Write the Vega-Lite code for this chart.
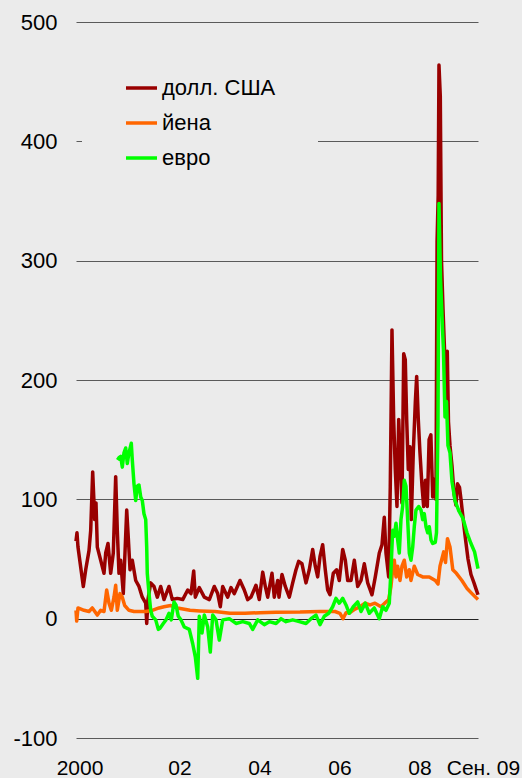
{
  "$schema": "https://vega.github.io/schema/vega-lite/v6.json",
  "width": 402,
  "height": 716,
  "autosize": {"type": "none"},
  "padding": {"left": 76, "top": 22, "right": 44, "bottom": 40},
  "background": "#ebebeb",
  "config": {
    "view": {"stroke": null},
    "font": "Liberation Sans"
  },
  "layer": [
    {
      "data": {"values": [
        {"series":"долл. США","year":2000.000,"value":65},
        {"series":"долл. США","year":2000.024,"value":72},
        {"series":"долл. США","year":2000.048,"value":60},
        {"series":"долл. США","year":2000.114,"value":43},
        {"series":"долл. США","year":2000.177,"value":27},
        {"series":"долл. США","year":2000.235,"value":41},
        {"series":"долл. США","year":2000.315,"value":57},
        {"series":"долл. США","year":2000.356,"value":74},
        {"series":"долл. США","year":2000.404,"value":123},
        {"series":"долл. США","year":2000.453,"value":83},
        {"series":"долл. США","year":2000.484,"value":97},
        {"series":"долл. США","year":2000.516,"value":60},
        {"series":"долл. США","year":2000.598,"value":49},
        {"series":"долл. США","year":2000.678,"value":38},
        {"series":"долл. США","year":2000.719,"value":55},
        {"series":"долл. США","year":2000.775,"value":63},
        {"series":"долл. США","year":2000.840,"value":38},
        {"series":"долл. США","year":2000.903,"value":55},
        {"series":"долл. США","year":2000.961,"value":119},
        {"series":"долл. США","year":2001.000,"value":74},
        {"series":"долл. США","year":2001.041,"value":38},
        {"series":"долл. США","year":2001.082,"value":49},
        {"series":"долл. США","year":2001.145,"value":21},
        {"series":"долл. США","year":2001.186,"value":55},
        {"series":"долл. США","year":2001.228,"value":91},
        {"series":"долл. США","year":2001.266,"value":68},
        {"series":"долл. США","year":2001.308,"value":41},
        {"series":"долл. США","year":2001.363,"value":49},
        {"series":"долл. США","year":2001.446,"value":32},
        {"series":"долл. США","year":2001.525,"value":27},
        {"series":"долл. США","year":2001.605,"value":18},
        {"series":"долл. США","year":2001.688,"value":13},
        {"series":"долл. США","year":2001.712,"value":-4},
        {"series":"долл. США","year":2001.743,"value":16},
        {"series":"долл. США","year":2001.809,"value":30},
        {"series":"долл. США","year":2001.889,"value":27},
        {"series":"долл. США","year":2001.969,"value":18},
        {"series":"долл. США","year":2002.051,"value":27},
        {"series":"долл. США","year":2002.131,"value":16},
        {"series":"долл. США","year":2002.252,"value":27},
        {"series":"долл. США","year":2002.332,"value":16},
        {"series":"долл. США","year":2002.453,"value":17},
        {"series":"долл. США","year":2002.584,"value":16},
        {"series":"долл. США","year":2002.705,"value":24},
        {"series":"долл. США","year":2002.785,"value":21},
        {"series":"долл. США","year":2002.850,"value":40},
        {"series":"долл. США","year":2002.889,"value":18},
        {"series":"долл. США","year":2002.985,"value":26},
        {"series":"долл. США","year":2003.107,"value":18},
        {"series":"долл. США","year":2003.228,"value":16},
        {"series":"долл. США","year":2003.349,"value":27},
        {"series":"долл. США","year":2003.431,"value":21},
        {"series":"долл. США","year":2003.494,"value":10},
        {"series":"долл. США","year":2003.552,"value":27},
        {"series":"долл. США","year":2003.673,"value":18},
        {"series":"долл. США","year":2003.753,"value":26},
        {"series":"долл. США","year":2003.833,"value":21},
        {"series":"долл. США","year":2003.971,"value":32},
        {"series":"долл. США","year":2004.075,"value":24},
        {"series":"долл. США","year":2004.157,"value":16},
        {"series":"долл. США","year":2004.237,"value":18},
        {"series":"долл. США","year":2004.358,"value":28},
        {"series":"долл. США","year":2004.438,"value":16},
        {"series":"долл. США","year":2004.521,"value":39},
        {"series":"долл. США","year":2004.584,"value":27},
        {"series":"долл. США","year":2004.642,"value":18},
        {"series":"долл. США","year":2004.746,"value":38},
        {"series":"долл. США","year":2004.801,"value":18},
        {"series":"долл. США","year":2004.884,"value":32},
        {"series":"долл. США","year":2004.915,"value":18},
        {"series":"долл. США","year":2004.988,"value":37},
        {"series":"долл. США","year":2005.068,"value":27},
        {"series":"долл. США","year":2005.165,"value":18},
        {"series":"долл. США","year":2005.247,"value":30},
        {"series":"долл. США","year":2005.327,"value":41},
        {"series":"долл. США","year":2005.392,"value":48},
        {"series":"долл. США","year":2005.472,"value":46},
        {"series":"долл. США","year":2005.569,"value":30},
        {"series":"долл. США","year":2005.649,"value":41},
        {"series":"долл. США","year":2005.731,"value":58},
        {"series":"долл. США","year":2005.794,"value":44},
        {"series":"долл. США","year":2005.852,"value":35},
        {"series":"долл. США","year":2005.908,"value":52},
        {"series":"долл. США","year":2005.973,"value":62},
        {"series":"долл. США","year":2006.036,"value":41},
        {"series":"долл. США","year":2006.094,"value":24},
        {"series":"долл. США","year":2006.150,"value":20},
        {"series":"долл. США","year":2006.230,"value":38},
        {"series":"долл. США","year":2006.312,"value":41},
        {"series":"долл. США","year":2006.375,"value":32},
        {"series":"долл. США","year":2006.458,"value":58},
        {"series":"долл. США","year":2006.521,"value":49},
        {"series":"долл. США","year":2006.579,"value":32},
        {"series":"долл. США","year":2006.659,"value":32},
        {"series":"долл. США","year":2006.739,"value":49},
        {"series":"долл. США","year":2006.821,"value":27},
        {"series":"долл. США","year":2006.901,"value":32},
        {"series":"долл. США","year":2006.981,"value":46},
        {"series":"долл. США","year":2007.063,"value":30},
        {"series":"долл. США","year":2007.167,"value":20},
        {"series":"долл. США","year":2007.247,"value":35},
        {"series":"долл. США","year":2007.344,"value":55},
        {"series":"долл. США","year":2007.409,"value":62},
        {"series":"долл. США","year":2007.465,"value":85},
        {"series":"долл. США","year":2007.506,"value":55},
        {"series":"долл. США","year":2007.571,"value":35},
        {"series":"долл. США","year":2007.610,"value":111},
        {"series":"долл. США","year":2007.651,"value":242},
        {"series":"долл. США","year":2007.692,"value":167},
        {"series":"долл. США","year":2007.731,"value":125},
        {"series":"долл. США","year":2007.772,"value":94},
        {"series":"долл. США","year":2007.814,"value":167},
        {"series":"долл. США","year":2007.845,"value":139},
        {"series":"долл. США","year":2007.893,"value":97},
        {"series":"долл. США","year":2007.935,"value":222},
        {"series":"долл. США","year":2007.973,"value":217},
        {"series":"долл. США","year":2008.007,"value":167},
        {"series":"долл. США","year":2008.046,"value":125},
        {"series":"долл. США","year":2008.087,"value":144},
        {"series":"долл. США","year":2008.119,"value":83},
        {"series":"долл. США","year":2008.167,"value":139},
        {"series":"долл. США","year":2008.216,"value":181},
        {"series":"долл. США","year":2008.249,"value":203},
        {"series":"долл. США","year":2008.288,"value":167},
        {"series":"долл. США","year":2008.329,"value":139},
        {"series":"долл. США","year":2008.378,"value":111},
        {"series":"долл. США","year":2008.419,"value":94},
        {"series":"долл. США","year":2008.462,"value":116},
        {"series":"долл. США","year":2008.506,"value":94},
        {"series":"долл. США","year":2008.550,"value":150},
        {"series":"долл. США","year":2008.593,"value":154},
        {"series":"долл. США","year":2008.637,"value":102},
        {"series":"долл. США","year":2008.683,"value":117},
        {"series":"долл. США","year":2008.717,"value":100},
        {"series":"долл. США","year":2008.743,"value":316},
        {"series":"долл. США","year":2008.770,"value":355},
        {"series":"долл. США","year":2008.789,"value":464},
        {"series":"долл. США","year":2008.821,"value":438},
        {"series":"долл. США","year":2008.850,"value":300},
        {"series":"долл. США","year":2008.886,"value":260},
        {"series":"долл. США","year":2008.923,"value":226},
        {"series":"долл. США","year":2008.959,"value":175},
        {"series":"долл. США","year":2008.990,"value":224},
        {"series":"долл. США","year":2009.019,"value":165},
        {"series":"долл. США","year":2009.056,"value":145},
        {"series":"долл. США","year":2009.104,"value":128},
        {"series":"долл. США","year":2009.153,"value":105},
        {"series":"долл. США","year":2009.201,"value":95},
        {"series":"долл. США","year":2009.237,"value":113},
        {"series":"долл. США","year":2009.286,"value":110},
        {"series":"долл. США","year":2009.322,"value":100},
        {"series":"долл. США","year":2009.370,"value":85},
        {"series":"долл. США","year":2009.419,"value":70},
        {"series":"долл. США","year":2009.492,"value":50},
        {"series":"долл. США","year":2009.564,"value":37},
        {"series":"долл. США","year":2009.637,"value":30},
        {"series":"долл. США","year":2009.685,"value":25},
        {"series":"долл. США","year":2009.734,"value":20},

        {"series":"йена","year":2000.000,"value":7},
        {"series":"йена","year":2000.017,"value":-2},
        {"series":"йена","year":2000.048,"value":9},
        {"series":"йена","year":2000.194,"value":7},
        {"series":"йена","year":2000.315,"value":6},
        {"series":"йена","year":2000.395,"value":9},
        {"series":"йена","year":2000.516,"value":3},
        {"series":"йена","year":2000.598,"value":7},
        {"series":"йена","year":2000.678,"value":6},
        {"series":"йена","year":2000.743,"value":24},
        {"series":"йена","year":2000.799,"value":13},
        {"series":"йена","year":2000.855,"value":7},
        {"series":"йена","year":2000.920,"value":18},
        {"series":"йена","year":2000.961,"value":28},
        {"series":"йена","year":2001.000,"value":7},
        {"series":"йена","year":2001.065,"value":21},
        {"series":"йена","year":2001.121,"value":18},
        {"series":"йена","year":2001.179,"value":11},
        {"series":"йена","year":2001.283,"value":7},
        {"series":"йена","year":2001.404,"value":6},
        {"series":"йена","year":2001.567,"value":6},
        {"series":"йена","year":2001.688,"value":6},
        {"series":"йена","year":2001.847,"value":7},
        {"series":"йена","year":2002.010,"value":9},
        {"series":"йена","year":2002.131,"value":10},
        {"series":"йена","year":2002.293,"value":11},
        {"series":"йена","year":2002.453,"value":9},
        {"series":"йена","year":2002.760,"value":7},
        {"series":"йена","year":2003.002,"value":6.5},
        {"series":"йена","year":2003.366,"value":6},
        {"series":"йена","year":2003.729,"value":4.5},
        {"series":"йена","year":2004.092,"value":4.5},
        {"series":"йена","year":2004.455,"value":5},
        {"series":"йена","year":2004.843,"value":5.4},
        {"series":"йена","year":2005.424,"value":5.5},
        {"series":"йена","year":2005.908,"value":6},
        {"series":"йена","year":2006.271,"value":6},
        {"series":"йена","year":2006.392,"value":4.5},
        {"series":"йена","year":2006.465,"value":0},
        {"series":"йена","year":2006.538,"value":5},
        {"series":"йена","year":2006.634,"value":5},
        {"series":"йена","year":2006.755,"value":8},
        {"series":"йена","year":2006.877,"value":10},
        {"series":"йена","year":2006.998,"value":13},
        {"series":"йена","year":2007.119,"value":11.5},
        {"series":"йена","year":2007.240,"value":13},
        {"series":"йена","year":2007.385,"value":10},
        {"series":"йена","year":2007.506,"value":14},
        {"series":"йена","year":2007.571,"value":16},
        {"series":"йена","year":2007.627,"value":27},
        {"series":"йена","year":2007.668,"value":41},
        {"series":"йена","year":2007.707,"value":49},
        {"series":"йена","year":2007.748,"value":35},
        {"series":"йена","year":2007.789,"value":44},
        {"series":"йена","year":2007.845,"value":32},
        {"series":"йена","year":2007.893,"value":44},
        {"series":"йена","year":2007.949,"value":49},
        {"series":"йена","year":2008.007,"value":35},
        {"series":"йена","year":2008.070,"value":41},
        {"series":"йена","year":2008.111,"value":32},
        {"series":"йена","year":2008.191,"value":44},
        {"series":"йена","year":2008.274,"value":37},
        {"series":"йена","year":2008.395,"value":35},
        {"series":"йена","year":2008.554,"value":35},
        {"series":"йена","year":2008.700,"value":32},
        {"series":"йена","year":2008.765,"value":29},
        {"series":"йена","year":2008.814,"value":44},
        {"series":"йена","year":2008.903,"value":56},
        {"series":"йена","year":2008.947,"value":47},
        {"series":"йена","year":2008.995,"value":67},
        {"series":"йена","year":2009.056,"value":60},
        {"series":"йена","year":2009.124,"value":41},
        {"series":"йена","year":2009.211,"value":38},
        {"series":"йена","year":2009.344,"value":32},
        {"series":"йена","year":2009.475,"value":25},
        {"series":"йена","year":2009.588,"value":21},
        {"series":"йена","year":2009.734,"value":16},

        {"series":"евро","year":2001.005,"value":133},
        {"series":"евро","year":2001.041,"value":135},
        {"series":"евро","year":2001.082,"value":136},
        {"series":"евро","year":2001.121,"value":127},
        {"series":"евро","year":2001.162,"value":139},
        {"series":"евро","year":2001.203,"value":143},
        {"series":"евро","year":2001.242,"value":130},
        {"series":"евро","year":2001.283,"value":139},
        {"series":"евро","year":2001.339,"value":147},
        {"series":"евро","year":2001.363,"value":133},
        {"series":"евро","year":2001.404,"value":113},
        {"series":"евро","year":2001.446,"value":99},
        {"series":"евро","year":2001.484,"value":111},
        {"series":"евро","year":2001.525,"value":112},
        {"series":"евро","year":2001.567,"value":102},
        {"series":"евро","year":2001.605,"value":99},
        {"series":"евро","year":2001.646,"value":88},
        {"series":"евро","year":2001.688,"value":83},
        {"series":"евро","year":2001.712,"value":60},
        {"series":"евро","year":2001.726,"value":38},
        {"series":"евро","year":2001.768,"value":21},
        {"series":"евро","year":2001.809,"value":7},
        {"series":"евро","year":2001.847,"value":2},
        {"series":"евро","year":2001.930,"value":-1},
        {"series":"евро","year":2001.993,"value":-9},
        {"series":"евро","year":2002.034,"value":-8},
        {"series":"евро","year":2002.114,"value":-4},
        {"series":"евро","year":2002.179,"value":-1},
        {"series":"евро","year":2002.252,"value":4.5},
        {"series":"евро","year":2002.308,"value":-1},
        {"series":"евро","year":2002.373,"value":14},
        {"series":"евро","year":2002.421,"value":11.5},
        {"series":"евро","year":2002.477,"value":2},
        {"series":"евро","year":2002.542,"value":-1},
        {"series":"евро","year":2002.622,"value":-7},
        {"series":"евро","year":2002.743,"value":-9},
        {"series":"евро","year":2002.826,"value":-21},
        {"series":"евро","year":2002.889,"value":-32},
        {"series":"евро","year":2002.947,"value":-50},
        {"series":"евро","year":2002.985,"value":2},
        {"series":"евро","year":2003.051,"value":-12},
        {"series":"евро","year":2003.107,"value":3},
        {"series":"евро","year":2003.189,"value":-7},
        {"series":"евро","year":2003.252,"value":-28},
        {"series":"евро","year":2003.310,"value":3},
        {"series":"евро","year":2003.390,"value":-1},
        {"series":"евро","year":2003.470,"value":-18},
        {"series":"евро","year":2003.552,"value":-1},
        {"series":"евро","year":2003.712,"value":0},
        {"series":"евро","year":2003.874,"value":-4},
        {"series":"евро","year":2004.036,"value":-2.5},
        {"series":"евро","year":2004.196,"value":-4},
        {"series":"евро","year":2004.278,"value":-9},
        {"series":"евро","year":2004.400,"value":-1},
        {"series":"евро","year":2004.559,"value":-5},
        {"series":"евро","year":2004.680,"value":-2.5},
        {"series":"евро","year":2004.843,"value":-4},
        {"series":"евро","year":2004.964,"value":0},
        {"series":"евро","year":2005.085,"value":-2.5},
        {"series":"евро","year":2005.247,"value":-1},
        {"series":"евро","year":2005.407,"value":-2.5},
        {"series":"евро","year":2005.569,"value":-4},
        {"series":"евро","year":2005.690,"value":0},
        {"series":"евро","year":2005.811,"value":3},
        {"series":"евро","year":2005.908,"value":-5},
        {"series":"евро","year":2006.012,"value":2},
        {"series":"евро","year":2006.119,"value":4.5},
        {"series":"евро","year":2006.215,"value":10},
        {"series":"евро","year":2006.295,"value":17},
        {"series":"евро","year":2006.375,"value":13},
        {"series":"евро","year":2006.458,"value":17},
        {"series":"евро","year":2006.538,"value":11.5},
        {"series":"евро","year":2006.617,"value":4.5},
        {"series":"евро","year":2006.714,"value":10},
        {"series":"евро","year":2006.821,"value":14},
        {"series":"евро","year":2006.901,"value":6},
        {"series":"евро","year":2007.005,"value":13},
        {"series":"евро","year":2007.102,"value":4.5},
        {"series":"евро","year":2007.223,"value":9},
        {"series":"евро","year":2007.344,"value":0},
        {"series":"евро","year":2007.426,"value":10},
        {"series":"евро","year":2007.506,"value":7},
        {"series":"евро","year":2007.586,"value":13},
        {"series":"евро","year":2007.627,"value":41},
        {"series":"евро","year":2007.668,"value":74},
        {"series":"евро","year":2007.707,"value":69},
        {"series":"евро","year":2007.748,"value":80},
        {"series":"евро","year":2007.789,"value":66},
        {"series":"евро","year":2007.828,"value":55},
        {"series":"евро","year":2007.869,"value":83},
        {"series":"евро","year":2007.910,"value":94},
        {"series":"евро","year":2007.949,"value":116},
        {"series":"евро","year":2007.990,"value":111},
        {"series":"евро","year":2008.031,"value":83},
        {"series":"евро","year":2008.070,"value":55},
        {"series":"евро","year":2008.111,"value":49},
        {"series":"евро","year":2008.153,"value":60},
        {"series":"евро","year":2008.191,"value":77},
        {"series":"евро","year":2008.232,"value":91},
        {"series":"евро","year":2008.298,"value":94},
        {"series":"евро","year":2008.354,"value":91},
        {"series":"евро","year":2008.395,"value":83},
        {"series":"евро","year":2008.433,"value":88},
        {"series":"евро","year":2008.475,"value":77},
        {"series":"евро","year":2008.516,"value":72},
        {"series":"евро","year":2008.554,"value":77},
        {"series":"евро","year":2008.596,"value":66},
        {"series":"евро","year":2008.637,"value":63},
        {"series":"евро","year":2008.700,"value":64},
        {"series":"евро","year":2008.729,"value":72},
        {"series":"евро","year":2008.765,"value":163},
        {"series":"евро","year":2008.789,"value":348},
        {"series":"евро","year":2008.826,"value":285},
        {"series":"евро","year":2008.862,"value":254},
        {"series":"евро","year":2008.898,"value":224},
        {"series":"евро","year":2008.935,"value":169},
        {"series":"евро","year":2008.971,"value":182},
        {"series":"евро","year":2009.007,"value":145},
        {"series":"евро","year":2009.056,"value":139},
        {"series":"евро","year":2009.104,"value":115},
        {"series":"евро","year":2009.177,"value":99},
        {"series":"евро","year":2009.274,"value":90},
        {"series":"евро","year":2009.370,"value":84},
        {"series":"евро","year":2009.467,"value":72},
        {"series":"евро","year":2009.564,"value":63},
        {"series":"евро","year":2009.651,"value":56},
        {"series":"евро","year":2009.734,"value":42}
      ]},
      "mark": {"type": "line", "strokeWidth": 3.5, "strokeJoin": "round"},
      "encoding": {
        "x": {
          "field": "year", "type": "quantitative",
          "scale": {"domain": [2000, 2009.734], "nice": false, "zero": false},
          "axis": {
            "title": null, "labels": false, "grid": false,
            "values": [2000, 2001, 2002, 2003, 2004, 2005, 2006, 2007, 2008, 2009],
            "tickSize": -4, "tickColor": "#555555", "domainColor": "#555555", "domainWidth": 1
          }
        },
        "y": {
          "field": "value", "type": "quantitative",
          "scale": {"domain": [-100, 500], "nice": false, "zero": false},
          "axis": {
            "title": null, "domain": false, "ticks": false, "grid": true,
            "values": [-100, 0, 100, 200, 300, 400, 500],
            "labelExpr": "'' + datum.value",
            "gridColor": {"condition": {"test": "datum.value === 0", "value": "#222222"}, "value": "#5a5a5a"},
            "labelFontSize": 22, "labelColor": "#000000", "labelPadding": 19, "labelFont": "Liberation Sans"
          }
        },
        "color": {
          "field": "series", "type": "nominal",
          "scale": {"domain": ["долл. США", "йена", "евро"], "range": ["#990000", "#ff6600", "#00ff00"]},
          "legend": {
            "title": null, "orient": "none", "legendX": 6, "legendY": 6.5,
            "padding": 42, "fillColor": "#ebebeb", "symbolType": "stroke",
            "symbolSize": 961, "symbolStrokeWidth": 3.5, "rowPadding": 6,
            "labelFontSize": 22, "labelColor": "#000000", "labelOffset": 3, "labelFont": "Liberation Sans"
          }
        }
      }
    },
    {
      "data": {"values": [
        {"label": "2000", "year": 2000.097},
        {"label": "02", "year": 2002.518},
        {"label": "04", "year": 2004.455},
        {"label": "06", "year": 2006.392},
        {"label": "08", "year": 2008.329},
        {"label": "Сен. 09", "year": 2009.867}
      ]},
      "mark": {"type": "text", "fontSize": 21, "font": "Liberation Sans", "color": "#000000", "baseline": "alphabetic", "align": "center", "dy": 37},
      "encoding": {
        "x": {"field": "year", "type": "quantitative", "axis": null},
        "y": {"datum": -100},
        "text": {"field": "label"}
      }
    }
  ]
}
